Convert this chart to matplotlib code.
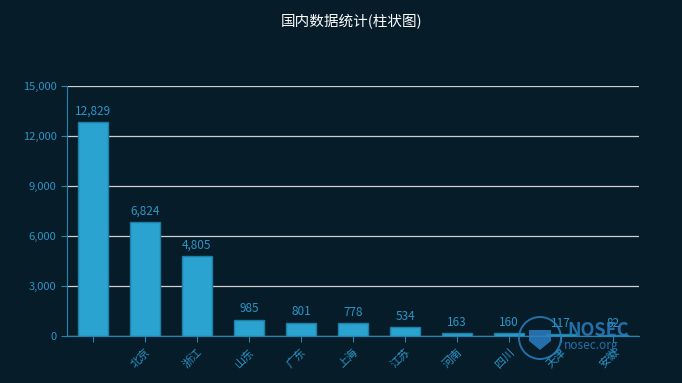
import matplotlib
matplotlib.use('Agg')
import matplotlib.pyplot as plt
from matplotlib.patches import Circle, Polygon

plt.rcParams['font.family'] = ['Noto Sans CJK SC', 'DejaVu Sans']

provinces = ['', '北京', '浙江', '山东', '广东', '上海', '江苏', '河南', '四川', '天津', '安徽']
counts = [12829, 6824, 4805, 985, 801, 778, 534, 163, 160, 117, 82]
yticks = [0, 3000, 6000, 9000, 12000, 15000]

bg = '#061c29'
blue = '#2aa3d1'
axis_blue = '#1f86b3'
label_blue = '#2b95c6'
mark_blue = '#2a7fc0'

fig = plt.figure(figsize=(6.82, 3.83), dpi=100)
fig.patch.set_facecolor(bg)
ax = fig.add_axes([0.0982, 0.1227, 0.8388, 0.6528])
ax.set_facecolor(bg)

x = list(range(len(provinces)))
bars = ax.bar(x, counts, width=0.58, color=blue, edgecolor='#1d7fa8', linewidth=1, zorder=3)
for xi, v in zip(x, counts):
    ax.text(xi, v + 250, '{:,}'.format(v), ha='center', va='bottom', color=label_blue, fontsize=8.5, zorder=4)

ax.set_xlim(-0.5, len(provinces) - 0.5)
ax.set_ylim(0, 15000)
ax.set_yticks(yticks)
ax.set_yticklabels(['{:,}'.format(t) for t in yticks], color=label_blue, fontsize=8)
ax.set_xticks(x)
ax.set_xticklabels(provinces, rotation=45, ha='right', rotation_mode='anchor', color=label_blue, fontsize=8)
ax.grid(axis='y', color='#cfcfcf', linewidth=0.9, zorder=1)
for s in ['top', 'right']:
    ax.spines[s].set_visible(False)
ax.spines['left'].set_color(axis_blue)
ax.spines['bottom'].set_color(axis_blue)
ax.tick_params(axis='both', colors=axis_blue, length=4, labelcolor=label_blue)

fig.text(0.516, 0.945, '国内数据统计(柱状图)', ha='center', va='center', color='white', fontsize=10.5)

# watermark (positions in inches from the bottom-left corner)
t = fig.dpi_scale_trans
fig.patches.append(Circle((5.40, 0.45), 0.21, transform=t, fill=False,
                          edgecolor=mark_blue, linewidth=1.4, alpha=0.85))
fig.patches.append(Polygon([(5.29, 0.53), (5.51, 0.53), (5.51, 0.42), (5.40, 0.33), (5.29, 0.42)],
                           transform=t, facecolor=mark_blue, edgecolor='none', alpha=0.85))
fig.text(567 / 682, 1 - 330 / 383, 'NOSEC', color=mark_blue, fontsize=13, fontweight='bold', alpha=0.85, va='center')
fig.text(564 / 682, 1 - 346 / 383, 'nosec.org', color=mark_blue, fontsize=8.5, alpha=0.85, va='center')

fig.savefig('out.png', dpi=100, facecolor=bg)
